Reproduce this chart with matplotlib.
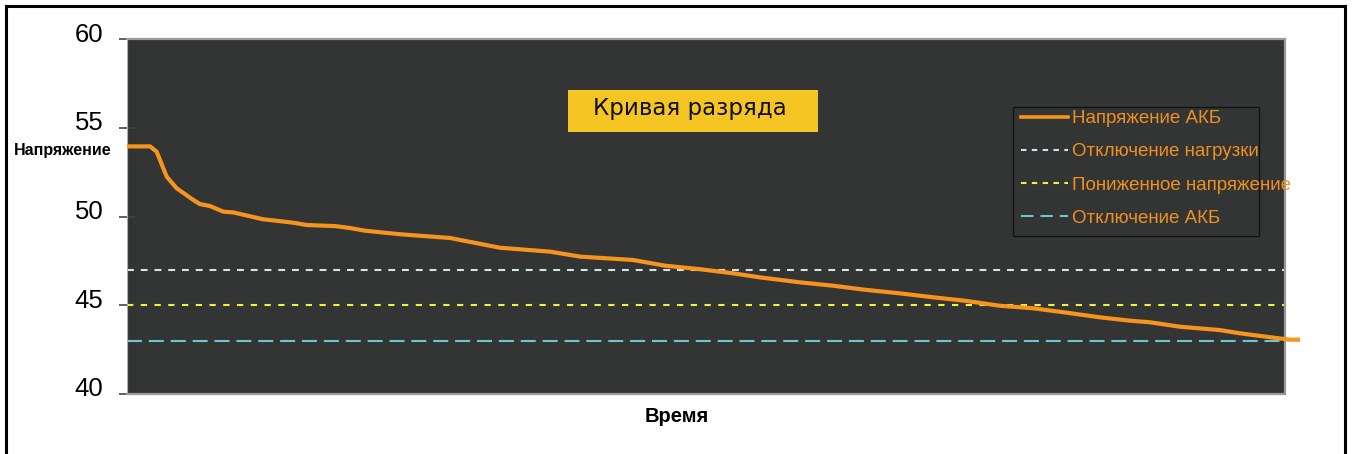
import matplotlib
matplotlib.use("Agg")
import matplotlib.pyplot as plt
import matplotlib.transforms as mtransforms
from matplotlib.lines import Line2D
from matplotlib.patches import Rectangle

# discharge curve: time (relative units) and battery voltage
time = [0.0, 1.99, 2.56, 2.85, 3.43, 4.29, 5.73, 6.30, 7.17, 8.32, 9.18,
        11.77, 12.93, 14.36, 15.52, 17.96, 19.26, 20.55, 23.58, 27.89,
        32.21, 36.53, 39.12, 43.70, 46.46, 49.48, 52.33, 54.66, 58.12,
        60.97, 63.90, 66.75, 69.60, 72.54, 75.39, 78.24, 81.17, 84.02,
        86.61, 88.34, 90.93, 94.39, 96.11, 98.70, 100.43, 101.30]
voltage = [53.95, 53.95, 53.65, 53.18, 52.24, 51.59, 50.93, 50.70, 50.59,
           50.27, 50.23, 49.84, 49.76, 49.65, 49.52, 49.46, 49.35, 49.20,
           49.00, 48.79, 48.24, 48.02, 47.74, 47.55, 47.23, 47.03, 46.80,
           46.57, 46.29, 46.10, 45.86, 45.67, 45.45, 45.24, 44.97, 44.83,
           44.58, 44.32, 44.13, 44.04, 43.79, 43.60, 43.42, 43.20, 43.06,
           43.06]

# threshold levels
load_cutoff = 47.0
low_voltage = 45.0
battery_cutoff = 43.0

y_ticks = [40, 45, 50, 55, 60]
labels = ["Напряжение АКБ", "Отключение нагрузки",
          "Пониженное напряжение", "Отключение АКБ"]

W, H = 1352, 454
BG = "#333434"
ORANGE = "#F7941D"
TEXT_ORANGE = "#EE9122"
WHITE_L = "#D2E4EA"
YELLOW_L = "#F2F23C"
CYAN_L = "#6CC6D2"

plt.rcParams["font.family"] = ["Liberation Sans", "DejaVu Sans"]

fig = plt.figure(figsize=(W / 100, H / 100), dpi=100)
ax = fig.add_axes([127 / W, 1 - 394 / H, (1285 - 127) / W, (394 - 39) / H])
ax.set_facecolor(BG)

lw_dash = 1.5
ax.axhline(load_cutoff, color=WHITE_L, lw=lw_dash, ls=(0, (3.3, 3.3)))
ax.axhline(low_voltage, color=YELLOW_L, lw=lw_dash, ls=(0, (3.0, 3.6)))
ax.axhline(battery_cutoff, color=CYAN_L, lw=lw_dash, ls=(0, (7.2, 3.3)))
ax.plot(time, voltage, color=ORANGE, lw=3.0, clip_on=False,
        solid_capstyle="butt", zorder=5)

ax.set_xlim(0, 100)
ax.set_ylim(40, 60)
ax.set_xticks([])
ax.set_yticks(y_ticks)
ax.tick_params(axis="y", direction="inout", length=12, width=1.2,
               color="#444444", labelsize=18.5, pad=11)
shift = mtransforms.ScaledTranslation(0, 0.07, fig.dpi_scale_trans)
for lbl in ax.get_yticklabels():
    lbl.set_transform(lbl.get_transform() + shift)

for side, sp in ax.spines.items():
    sp.set_color("#9a9a9a")
    sp.set_linewidth(1.6)
ax.spines["left"].set_linewidth(0.8)
ax.spines["left"].set_color("#b0b0b0")

# legend: frame drawn separately, entries placed over it
ax.add_patch(Rectangle(((1013 - 127) / 1158, (394 - 236) / 355),
                       246 / 1158, 129 / 355, transform=ax.transAxes,
                       facecolor="none", edgecolor="#111111", lw=1.0,
                       zorder=6))
handles = [
    Line2D([], [], color=ORANGE, lw=2.6),
    Line2D([], [], color=WHITE_L, lw=lw_dash, ls=(0, (2.6, 2.6))),
    Line2D([], [], color=YELLOW_L, lw=lw_dash, ls=(0, (2.6, 2.6))),
    Line2D([], [], color=CYAN_L, lw=lw_dash, ls=(0, (6.0, 3.3))),
]
leg = ax.legend(handles, labels, loc="upper left",
                bbox_to_anchor=((1021 - 127) / 1158, (394 - 110) / 355),
                fontsize=13.5, frameon=False,
                handlelength=2.5, handletextpad=0.21, labelspacing=0.86,
                borderpad=0, borderaxespad=0)
leg.set_zorder(7)
for t in leg.get_texts():
    t.set_color(TEXT_ORANGE)

# title box
fig.patches.append(Rectangle((568 / W, 1 - 132 / H), 250 / W, 42 / H,
                             transform=fig.transFigure, facecolor="#F5C523",
                             edgecolor="none", zorder=3))
fig.text(690 / W, 1 - 108 / H, "Кривая разряда", fontsize=16.5,
         family="DejaVu Sans", ha="center", va="center", color="#111111",
         zorder=4)

fig.text(14 / W, 1 - 151 / H, "Напряжение", fontsize=11.5, fontweight="bold",
         ha="left", va="center")
fig.text(677 / W, 1 - 417 / H, "Время", fontsize=14.5, fontweight="bold",
         ha="center", va="center")

# outer frame
frame_kw = dict(transform=fig.transFigure, color="black", lw=2.2)
fig.add_artist(Line2D([6 / W, 1345 / W], [1 - 6 / H, 1 - 6 / H], **frame_kw))
fig.add_artist(Line2D([6 / W, 6 / W], [1 - 6 / H, 0], **frame_kw))
fig.add_artist(Line2D([1345 / W, 1345 / W], [1 - 6 / H, 0], **frame_kw))

fig.savefig("out.png", dpi=100, facecolor="white")
